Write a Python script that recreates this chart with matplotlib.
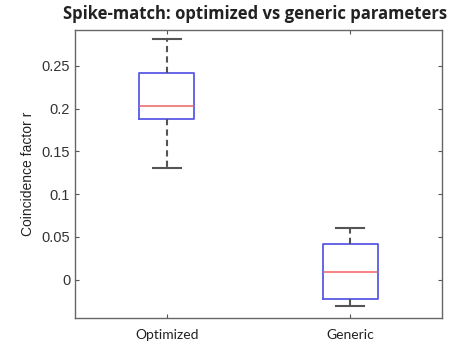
import matplotlib
matplotlib.use("Agg")
import matplotlib.pyplot as plt

# box statistics
groups = ["Optimized", "Generic"]
whisker_low = [0.1305, -0.0309]
q1 = [0.1875, -0.0227]
median = [0.2035, 0.0085]
q3 = [0.2418, 0.0417]
whisker_high = [0.2816, 0.0609]

stats = []
for i, g in enumerate(groups):
    stats.append({
        "label": g,
        "whislo": whisker_low[i],
        "q1": q1[i],
        "med": median[i],
        "q3": q3[i],
        "whishi": whisker_high[i],
        "fliers": [],
    })

fig = plt.figure(figsize=(4.53, 3.5), dpi=100)
ax = fig.add_axes([0.1656, 0.0914, 0.81, 0.8229])

ax.bxp(stats, positions=[1, 2], widths=0.3,
       boxprops=dict(color="#5a5ae6", linewidth=1.3),
       medianprops=dict(color="#f06060", linewidth=1.1),
       whiskerprops=dict(color="#555555", linestyle=(0, (3, 2)), linewidth=1.5),
       capprops=dict(color="#555555", linewidth=1.5),
       capwidths=0.15)

ax.set_xlim(0.5, 2.5)
ax.set_ylim(-0.045, 0.292)
ax.set_yticks([0, 0.05, 0.1, 0.15, 0.2, 0.25])
ax.set_yticklabels(["0", "0.05", "0.1", "0.15", "0.2", "0.25"],
                   family="Liberation Sans", fontsize=10.5, color="#333333")
ax.set_xticks([1, 2])
ax.set_xticklabels(groups, family="Lato", fontsize=10, color="#222222")
ax.tick_params(direction="in", top=True, right=True, length=3, color="#555555")
ax.tick_params(axis="x", pad=8)
for s in ax.spines.values():
    s.set_color("#666666")
    s.set_linewidth(1.0)

ax.set_ylabel("Coincidence factor r", family="Liberation Sans", fontsize=10,
              color="#222222", labelpad=5)
ax.set_title("Spike-match: optimized vs generic parameters", family="Open Sans",
             fontweight="bold", fontsize=12, color="#222222", pad=8, x=0.49)

fig.savefig("out.png", dpi=100)
